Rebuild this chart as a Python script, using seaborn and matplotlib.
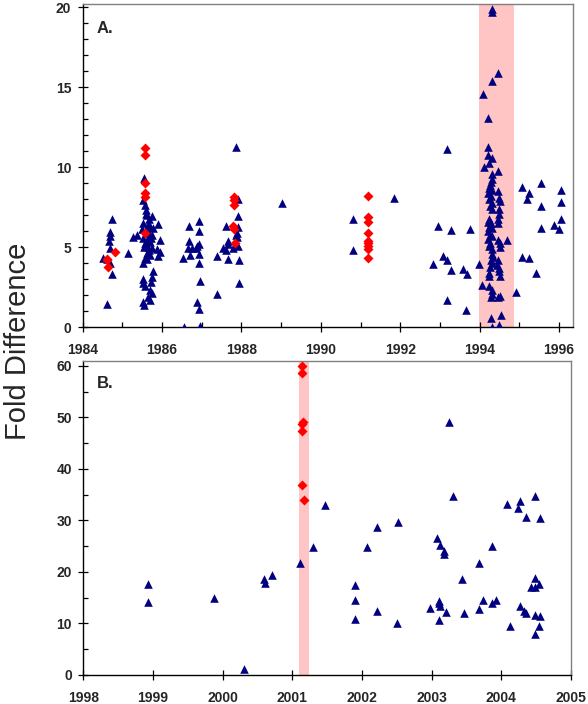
import matplotlib
matplotlib.use("Agg")
import matplotlib.pyplot as plt
import numpy as np
import pandas as pd
import seaborn as sns
from matplotlib.ticker import MultipleLocator

# ---------------- data ----------------
# Panel A (1984-1996): blue triangles
a_blue_x = [
    1984.60, 1984.52, 1984.65, 1984.69, 1984.70, 1984.70, 1984.73, 1984.69, 1984.73, 1984.62,
    1985.15, 1985.26, 1985.38,
    1985.54, 1985.53, 1985.57, 1985.60, 1985.63, 1985.74, 1985.53, 1985.64, 1985.70, 1985.78,
    1985.90, 1985.49, 1985.61, 1985.74, 1985.66, 1985.53, 1985.63, 1985.70, 1985.95, 1985.57,
    1985.65, 1985.74, 1985.87, 1985.95, 1985.61, 1985.70, 1985.57, 1985.90, 1985.53, 1985.63,
    1985.76, 1985.74, 1985.71, 1985.53, 1985.57, 1985.53, 1985.70, 1985.74, 1985.65, 1985.70,
    1985.51, 1985.54, 1985.60, 1985.67, 1985.58, 1985.68, 1985.55, 1985.72, 1985.60, 1985.66,
    1986.55, 1986.52, 1986.69, 1986.69, 1986.66, 1986.70, 1986.75, 1986.85, 1986.88, 1986.94,
    1986.94, 1986.94, 1986.94, 1986.94, 1986.96, 1986.87, 1986.94, 1986.96,
    1987.38, 1987.38, 1987.61, 1987.53, 1987.61, 1987.67, 1987.67, 1987.67, 1987.78, 1987.84,
    1987.88, 1987.88, 1987.90, 1987.86, 1987.92, 1987.92, 1987.92, 1987.94, 1987.94, 1987.86,
    1989.01, 1990.80, 1990.80, 1991.84,
    1993.17, 1992.96, 1993.27, 1993.76, 1993.08, 1993.17, 1992.83, 1993.28, 1993.59, 1993.67,
    1993.18, 1993.66, 1993.98,
    1994.30, 1994.30, 1994.47, 1994.30, 1994.09, 1994.20,
    1994.20, 1994.20, 1994.30, 1994.24, 1994.12, 1994.30, 1994.30, 1994.28, 1994.26, 1994.24,
    1994.30, 1994.22, 1994.28, 1994.24, 1994.30, 1994.26, 1994.30,
    1994.24, 1994.22, 1994.28, 1994.24, 1994.30, 1994.22, 1994.26, 1994.30, 1994.22, 1994.26,
    1994.24, 1994.30, 1994.30, 1994.33, 1994.28, 1994.30, 1994.26,
    1994.23, 1994.23, 1994.05, 1994.24, 1994.30, 1994.30, 1994.28, 1994.28, 1994.30,
    1994.47, 1994.47, 1994.49, 1994.51, 1994.49, 1994.49, 1994.47, 1994.47, 1994.47, 1994.51,
    1994.51, 1994.47, 1994.45, 1994.50, 1994.50, 1994.51, 1994.51, 1994.47, 1994.54, 1994.49,
    1994.70, 1994.91,
    1995.07, 1995.54, 1995.25, 1995.20, 1995.54, 1996.04, 1996.04, 1996.04, 1995.54, 1995.87,
    1996.00, 1995.06, 1995.25, 1995.43,
]
a_blue_y = [
    1.44, 4.31, 5.41, 4.94, 5.94, 5.70, 6.77, 4.00, 3.33, 4.25,
    4.63, 5.63, 5.77,
    9.35, 7.96, 7.65, 7.33, 7.02, 6.96, 6.54, 6.46, 6.33, 6.23,
    6.46, 6.13, 5.88, 5.77, 5.63, 5.56, 5.46, 5.35, 5.46, 5.15,
    5.04, 4.94, 4.88, 4.73, 4.67, 4.52, 4.31, 4.46, 4.00, 4.25,
    3.54, 3.17, 2.85, 3.00, 2.58, 2.75, 2.33, 2.13, 1.92, 1.71,
    1.60, 1.40, 6.10, 5.90, 5.30, 4.85, 5.00, 5.60, 7.10, 6.80,
    0.05, 4.35, 6.33, 5.42, 4.94, 4.52, 4.94, 4.94, 5.08, 6.67,
    6.02, 5.21, 4.58, 4.00, 2.90, 1.60, 1.13, 0.08,
    4.46, 2.08, 6.33, 4.94, 4.83, 5.21, 5.42, 4.25, 4.94, 5.15,
    5.63, 5.88, 6.29, 11.29, 8.00, 6.96, 5.08, 4.21, 2.79, 5.77,
    7.79, 6.75, 4.83, 8.08,
    11.15, 6.33, 6.08, 6.13, 4.46, 4.21, 3.96, 3.58, 3.67, 3.33,
    1.71, 1.08, 3.96,
    19.9, 19.7, 15.9, 15.4, 14.6, 13.1,
    11.3, 10.8, 10.6, 10.3, 10.0, 9.6, 9.3, 9.1, 8.9, 8.7,
    8.6, 8.4, 8.2, 8.0, 7.8, 7.6, 7.4,
    6.8, 6.6, 6.5, 6.3, 6.2, 6.0, 5.8, 5.7, 5.5, 5.3,
    5.1, 4.9, 4.6, 4.4, 4.2, 4.0, 3.8,
    3.4, 3.2, 2.65, 2.6, 2.35, 2.1, 1.9, 0.6, 0.05,
    9.8, 8.5, 8.1, 7.9, 7.4, 7.1, 6.8, 6.5, 5.45, 5.25,
    5.0, 4.2, 3.9, 3.7, 3.5, 3.2, 1.95, 1.9, 0.75, 0.15,
    5.45, 2.2,
    8.79, 9.04, 8.42, 8.02, 7.58, 8.58, 7.83, 6.77, 6.21, 6.40,
    6.15, 4.38, 4.35, 3.38,
]
# Panel A: red diamonds
a_red_x = [1984.62, 1984.60, 1984.64, 1984.81,
           1985.57, 1985.57, 1985.57, 1985.57, 1985.57, 1985.57,
           1987.80, 1987.80, 1987.80, 1987.79, 1987.81, 1987.84,
           1991.19, 1991.19, 1991.18, 1991.19, 1991.19, 1991.19, 1991.19, 1991.18, 1991.19]
a_red_y = [4.25, 4.20, 3.79, 4.73,
           11.23, 10.77, 9.04, 8.41, 8.16, 5.91,
           8.17, 7.96, 7.65, 6.33, 6.13, 5.29,
           8.23, 6.92, 6.60, 5.92, 5.40, 5.29, 5.08, 4.87, 4.31]
a_span = (1993.99, 1994.86)

# Panel B (1998-2005): blue triangles
b_blue_x = [1998.93, 1998.93, 1999.87, 2000.30, 2000.60, 2000.61, 2000.71, 2001.11, 2001.29,
            2001.47, 2001.90, 2001.90, 2001.90, 2002.07, 2002.22, 2002.21, 2002.51, 2002.50,
            2003.07, 2003.12, 2003.18, 2003.18, 2003.25, 2003.30, 2002.97, 2003.11, 2003.11,
            2003.12, 2003.10, 2003.20, 2003.44, 2003.47, 2003.68, 2003.68, 2003.74, 2003.86,
            2003.86, 2003.92, 2004.08, 2004.13, 2004.24, 2004.27, 2004.27, 2004.33, 2004.35,
            2004.35, 2004.42, 2004.48, 2004.48, 2004.48, 2004.48, 2004.48, 2004.54, 2004.55,
            2004.55, 2004.54]
b_blue_y = [17.6, 14.1, 15.0, 1.1, 18.6, 17.8, 19.5, 21.8, 24.9,
            33.0, 17.5, 14.5, 10.9, 24.8, 28.7, 12.4, 29.7, 10.0,
            26.6, 25.2, 24.1, 23.5, 49.1, 34.7, 13.0, 14.4, 14.0,
            13.3, 10.7, 12.2, 18.6, 12.0, 21.8, 12.8, 14.5, 25.0,
            13.9, 14.5, 33.2, 9.5, 32.4, 33.7, 13.3, 12.5, 30.6,
            12.0, 17.1, 34.7, 18.9, 17.1, 11.6, 8.0, 17.6, 30.4,
            11.4, 9.5]
# Panel B: red diamonds
b_red_x = [2001.14, 2001.14, 2001.15, 2001.14, 2001.14, 2001.14, 2001.17]
b_red_y = [60.0, 58.6, 49.1, 48.8, 47.4, 36.8, 33.9]
b_span = (2001.10, 2001.24)

# ---------------- style ----------------
sns.set_style("white")
plt.rcParams["font.family"] = ["Liberation Sans", "DejaVu Sans"]
plt.rcParams["font.weight"] = "bold"

BLUE = "#000080"
RED = "#FF0000"
PINK = "#FFC4C4"

W, H = 588, 704
fig = plt.figure(figsize=(W / 100, H / 100), dpi=100)
axA = fig.add_axes([82.7 / W, 1 - 327.3 / H, (573.3 - 82.7) / W, (327.3 - 3.5) / H])
axB = fig.add_axes([83.3 / W, 1 - 675 / H, (571 - 83.3) / W, (675 - 360.7) / H])

dfA_b = pd.DataFrame({"year": a_blue_x, "fold": a_blue_y})
dfA_r = pd.DataFrame({"year": a_red_x, "fold": a_red_y})
dfB_b = pd.DataFrame({"year": b_blue_x, "fold": b_blue_y})
dfB_r = pd.DataFrame({"year": b_red_x, "fold": b_red_y})


def draw(ax, dfb, dfr, span):
    ax.axvspan(span[0], span[1], color=PINK, lw=0, zorder=0)
    sns.scatterplot(data=dfb, x="year", y="fold", ax=ax, marker="^", s=38,
                    color=BLUE, linewidth=0, zorder=3, legend=False)
    sns.scatterplot(data=dfr, x="year", y="fold", ax=ax, marker="D", s=26,
                    color=RED, linewidth=0, zorder=4, legend=False)
    ax.set_xlabel("")
    ax.set_ylabel("")
    for side in ("left", "bottom"):
        ax.spines[side].set_color("black")
        ax.spines[side].set_linewidth(1.0)
    for side in ("top", "right"):
        ax.spines[side].set_color("#808080")
        ax.spines[side].set_linewidth(1.0)
    ax.tick_params(which="major", direction="inout", length=6.5, width=0.9,
                   color="black", labelsize=10)
    ax.tick_params(which="minor", direction="in", length=3.6, width=0.9, color="black")
    ax.tick_params(axis="y", which="major", left=True, pad=5)
    ax.tick_params(axis="x", which="major", bottom=True, pad=8)
    for lab in ax.get_xticklabels() + ax.get_yticklabels():
        lab.set_fontweight("bold")


draw(axA, dfA_b, dfA_r, a_span)
axA.set_xlim(1984, 1996.36)
axA.set_ylim(0, 20.25)
axA.xaxis.set_major_locator(MultipleLocator(2))
axA.xaxis.set_minor_locator(MultipleLocator(1))
axA.yaxis.set_major_locator(MultipleLocator(5))
axA.yaxis.set_minor_locator(MultipleLocator(1))
axA.tick_params(axis="x", which="minor", bottom=True)
axA.tick_params(axis="y", which="minor", left=True)
axA.set_xticks([1984, 1986, 1988, 1990, 1992, 1994, 1996])
axA.set_xticklabels(["1984", "1986", "1988", "1990", "1992", "1994", "1996"], fontweight="bold")
axA.set_yticks([0, 5, 10, 15, 20])
axA.set_yticklabels(["0", "5", "10", "15", "20"], fontweight="bold")
axA.text(0.0285, 0.908, "A.", transform=axA.transAxes, fontsize=12,
         fontweight="bold", va="baseline", ha="left")

draw(axB, dfB_b, dfB_r, b_span)
axB.set_xlim(1998, 2005)
axB.set_ylim(0, 61)
axB.yaxis.set_minor_locator(MultipleLocator(5))
axB.tick_params(axis="y", which="minor", left=True)
axB.set_xticks([1998, 1999, 2000, 2001, 2002, 2003, 2004, 2005])
axB.set_xticklabels(["1998", "1999", "2000", "2001", "2002", "2003", "2004", "2005"],
                    fontweight="bold")
axB.set_yticks([0, 10, 20, 30, 40, 50, 60])
axB.set_yticklabels(["0", "10", "20", "30", "40", "50", "60"], fontweight="bold")
axB.text(0.0285, 0.912, "B.", transform=axB.transAxes, fontsize=12,
         fontweight="bold", va="baseline", ha="left")

fig.text(18 / W, 1 - 341 / H, "Fold Difference", rotation=90, fontsize=21,
         fontweight="normal", ha="center", va="center")

fig.savefig("out.png", dpi=100, facecolor="white")
